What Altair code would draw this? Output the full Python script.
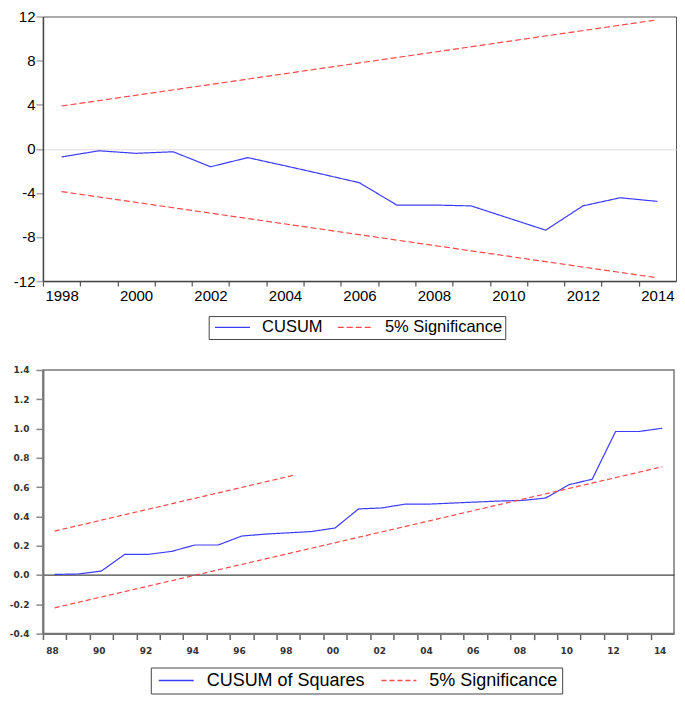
import altair as alt
import pandas as pd

# ---------------- data: top panel (CUSUM) ----------------
top_years = list(range(1998, 2015))
top_cusum = [-0.74, -0.18, -0.41, -0.27, -1.63, -0.80, -1.54, -2.30, -3.08,
             -5.10, -5.10, -5.18, -6.28, -7.38, -5.18, -4.44, -4.77]
top_band_years = [1998, 2014]
top_upper = [3.88, 11.70]
top_lower = [-3.88, -11.70]
top_y_ticks = [-12, -8, -4, 0, 4, 8, 12]

# ---------------- data: bottom panel (CUSUM of squares) ----------------
bot_years = list(range(1988, 2015))
bot_cusumsq = [0.004, 0.007, 0.027, 0.141, 0.141, 0.161, 0.205, 0.205, 0.266,
               0.279, 0.288, 0.297, 0.321, 0.451, 0.458, 0.484, 0.484, 0.491,
               0.498, 0.505, 0.509, 0.525, 0.616, 0.654, 0.980, 0.980, 1.002]
bot_upper_years = [1988, 1998.2]
bot_upper = [0.30, 0.68]
bot_lower_years = [1988, 2014]
bot_lower = [-0.224, 0.739]
bot_y_ticks = [-0.4, -0.2, 0.0, 0.2, 0.4, 0.6, 0.8, 1.0, 1.2, 1.4]

top_series = ["CUSUM", "5% Significance"]
bot_series = ["CUSUM of Squares", "5% Significance"]
BLUE = "#3c3cff"
RED = "#ff4848"


def frame(rows):
    return pd.DataFrame(rows, columns=["year", "value", "series", "line"])


top_rows = [(y, v, top_series[0], "main") for y, v in zip(top_years, top_cusum)]
top_rows += [(y, v, top_series[1], "upper") for y, v in zip(top_band_years, top_upper)]
top_rows += [(y, v, top_series[1], "lower") for y, v in zip(top_band_years, top_lower)]
top_df = frame(top_rows)

bot_rows = [(y, v, bot_series[0], "main") for y, v in zip(bot_years, bot_cusumsq)]
bot_rows += [(y, v, bot_series[1], "upper") for y, v in zip(bot_upper_years, bot_upper)]
bot_rows += [(y, v, bot_series[1], "lower") for y, v in zip(bot_lower_years, bot_lower)]
bot_df = frame(bot_rows)

zero_only = "datum.value === 0"

# ---------------- top chart ----------------
W1, H1 = 634, 265
half1 = W1 / (2 * len(top_years))
leg_top = alt.Legend(
    title=None, orient="none", legendX=166, legendY=300, direction="horizontal",
    strokeColor="#444", fillColor="white", padding=3,
    symbolType="M-1,0H6", symbolSize=100, symbolStrokeWidth=1.2,
    labelFont="Liberation Sans", labelFontSize=16.5, labelColor="#000",
    labelOffset=34, columnPadding=12,
)
x_top = alt.X(
    "year:Q",
    scale=alt.Scale(domain=[top_years[0] - 0.5, top_years[-1] + 0.5], nice=False, zero=False),
    axis=alt.Axis(
        values=top_years, title=None, grid=False,
        labelExpr="datum.value % 2 == 0 ? toString(datum.value) : ''",
        tickOffset=-half1, labelOffset=half1, labelFlush=False, labelOverlap=False,
        tickSize=5, tickColor="#555", tickWidth=1.2,
        domainColor="#444", domainWidth=1.5,
        labelFont="Liberation Sans", labelFontSize=15, labelColor="#000", labelPadding=2,
    ),
)
y_top = alt.Y(
    "value:Q",
    scale=alt.Scale(domain=[-12, 12], nice=False, zero=False),
    axis=alt.Axis(
        values=top_y_ticks, title=None, labelOverlap=False,
        grid=True, gridColor=alt.condition(zero_only, alt.value("#dddddd"), alt.value("transparent")),
        gridWidth=1,
        labelExpr="toString(datum.value)",
        tickSize=7, tickColor="#aaa", tickWidth=1.5,
        domainColor="#444", domainWidth=1.5,
        labelFont="Liberation Sans", labelFontSize=15, labelColor="#000", labelPadding=1,
    ),
)
top = alt.Chart(top_df).mark_line(strokeWidth=1.2, clip=True).encode(
    x=x_top,
    y=y_top,
    color=alt.Color("series:N", scale=alt.Scale(domain=top_series, range=[BLUE, RED]), legend=leg_top),
    strokeDash=alt.StrokeDash("series:N", scale=alt.Scale(domain=top_series, range=[[1, 0], [6, 3]]), legend=leg_top),
    detail="line:N",
).properties(width=W1, height=H1, view=alt.ViewBackground(stroke="#555", strokeWidth=1))

# ---------------- bottom chart ----------------
W2, H2 = 632, 264
half2 = W2 / (2 * len(bot_years))
leg_bot = alt.Legend(
    title=None, orient="none", legendX=108, legendY=298, direction="horizontal",
    strokeColor="#444", fillColor="white", padding=4,
    symbolType="M-1,0H6", symbolSize=100, symbolStrokeWidth=1.3,
    labelFont="Liberation Sans", labelFontSize=18, labelColor="#000",
    labelOffset=34, columnPadding=12,
)
x_bot = alt.X(
    "year:Q",
    scale=alt.Scale(domain=[bot_years[0] - 0.5, bot_years[-1] + 0.5], nice=False, zero=False),
    axis=alt.Axis(
        values=bot_years, title=None, grid=False,
        labelExpr="datum.value % 2 == 0 ? slice(toString(datum.value), 2) : ''",
        tickOffset=-half2, labelOffset=9, labelFlush=False, labelOverlap=False,
        tickSize=6, tickColor="#666", tickWidth=1.5,
        domainColor="#777", domainWidth=2,
        labelFont="DejaVu Sans", labelFontWeight="bold", labelFontSize=9,
        labelColor="#333", labelPadding=7,
    ),
)
y_bot = alt.Y(
    "value:Q",
    scale=alt.Scale(domain=[-0.4, 1.4], nice=False, zero=False),
    axis=alt.Axis(
        values=bot_y_ticks, title=None, labelOverlap=False,
        grid=True, gridColor=alt.condition(zero_only, alt.value("#444444"), alt.value("transparent")),
        gridWidth=1.2,
        labelExpr="replace(format(datum.value, '.1f'), '\u2212', '-')",
        tickSize=7, tickColor="#888", tickWidth=1.5,
        domainColor="#777", domainWidth=2,
        labelFont="DejaVu Sans", labelFontWeight="bold", labelFontSize=9,
        labelColor="#333", labelPadding=7,
    ),
)
bot = alt.Chart(bot_df).mark_line(strokeWidth=1.2, clip=True).encode(
    x=x_bot,
    y=y_bot,
    color=alt.Color("series:N", scale=alt.Scale(domain=bot_series, range=[BLUE, RED]), legend=leg_bot),
    strokeDash=alt.StrokeDash("series:N", scale=alt.Scale(domain=bot_series, range=[[1, 0], [5, 3]]), legend=leg_bot),
    detail="line:N",
).properties(width=W2, height=H2, view=alt.ViewBackground(stroke="#777", strokeWidth=1.5))

chart = alt.concat(top, bot, columns=1, spacing=25, align="none").resolve_scale(
    color="independent", strokeDash="independent"
).properties(
    padding={"left": 0, "top": 0, "right": 0, "bottom": 0}, background="white"
)

chart.save("out.html", embed_options={"renderer": "svg", "actions": False})
